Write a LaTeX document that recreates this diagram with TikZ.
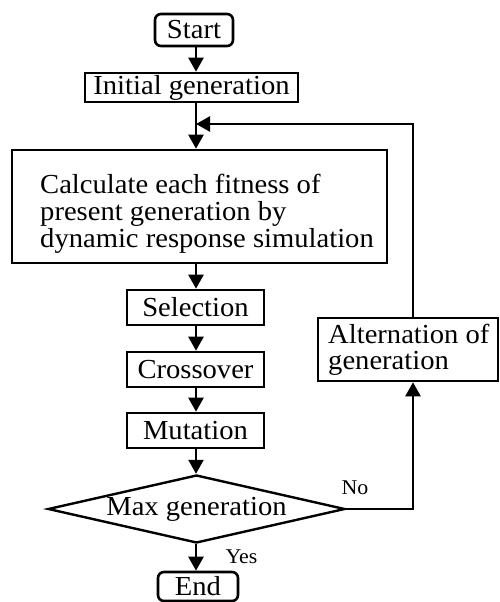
\documentclass[tikz,border=0pt]{standalone}
\usepackage{fontspec}
\setmainfont{Liberation Serif}[FakeStretch=1.04]
\usetikzlibrary{arrows.meta,shapes.geometric}
\tikzset{
  box/.style={draw, line width=2.6pt, inner sep=0pt, font=\fontsize{27.5}{27.5}\selectfont},
  rbox/.style={box, rounded corners=6pt},
  txt/.style={inner sep=0pt, align=left, font=\fontsize{27.5}{27}\selectfont},
  lbl/.style={inner sep=0pt, font=\fontsize{21}{21}\selectfont},
  arr/.style={line width=2.4pt, -{Triangle[length=14pt,width=15pt]}}
}
\begin{document}
\begin{tikzpicture}[x=1pt,y=-1pt]
\useasboundingbox (0,0) rectangle (499,602);
\coordinate (col) at (196,0);
\coordinate (fbx) at (413,0);
\coordinate (join) at (196,124);
\node[rbox, minimum width=78pt, minimum height=32pt] (start) at (194,30) {Start};
\node[box, minimum width=213pt, minimum height=29pt] (init) at (191.5,87.5) {Initial generation};
\node[box, minimum width=375pt, minimum height=113pt] (calc) at (199.5,206.5) {};
\node[txt, anchor=west] (calctext) at (40,214) {Calculate each fitness of\\present generation by\\dynamic response simulation};
\node[box, minimum width=137pt, minimum height=35pt] (sel) at (195.5,307.5) {Selection};
\node[box, minimum width=137pt, minimum height=35pt] (cross) at (195.5,369.5) {Crossover};
\node[box, minimum width=137pt, minimum height=35pt] (mut) at (195.5,430.5) {Mutation};
\node[draw, line width=2.4pt, diamond, aspect=4.37, inner sep=0pt, minimum width=297pt, minimum height=68pt, font=\fontsize{27.5}{27.5}\selectfont] (dia) at (196.5,509) {Max generation};
\node[rbox, minimum width=80pt, minimum height=29pt] (end) at (198,586.5) {End};
\node[box, minimum width=180pt, minimum height=63pt] (alt) at (408,349.5) {};
\node[txt, anchor=west, font=\fontsize{27.5}{26}\selectfont] (alttext) at (328,350) {Alternation of\\generation};
\node[lbl] (no) at (355,488) {No};
\node[lbl] (yes) at (241.5,557) {Yes};
\draw[arr] (start.south -| col) -- (init.north -| col);
\draw[arr] (init.south -| col) -- (calc.north -| col);
\draw[arr] (calc.south -| col) -- (sel.north -| col);
\draw[arr] (sel.south -| col) -- (cross.north -| col);
\draw[arr] (cross.south -| col) -- (mut.north -| col);
\draw[arr] (mut.south -| col) -- (dia.north -| col);
\draw[arr] (dia.south -| col) -- (end.north -| col);
\draw[arr] (dia.east) -- (dia.east -| fbx) -- (alt.south -| fbx);
\draw[arr] (alt.north -| fbx) |- (join);
\end{tikzpicture}
\end{document}
